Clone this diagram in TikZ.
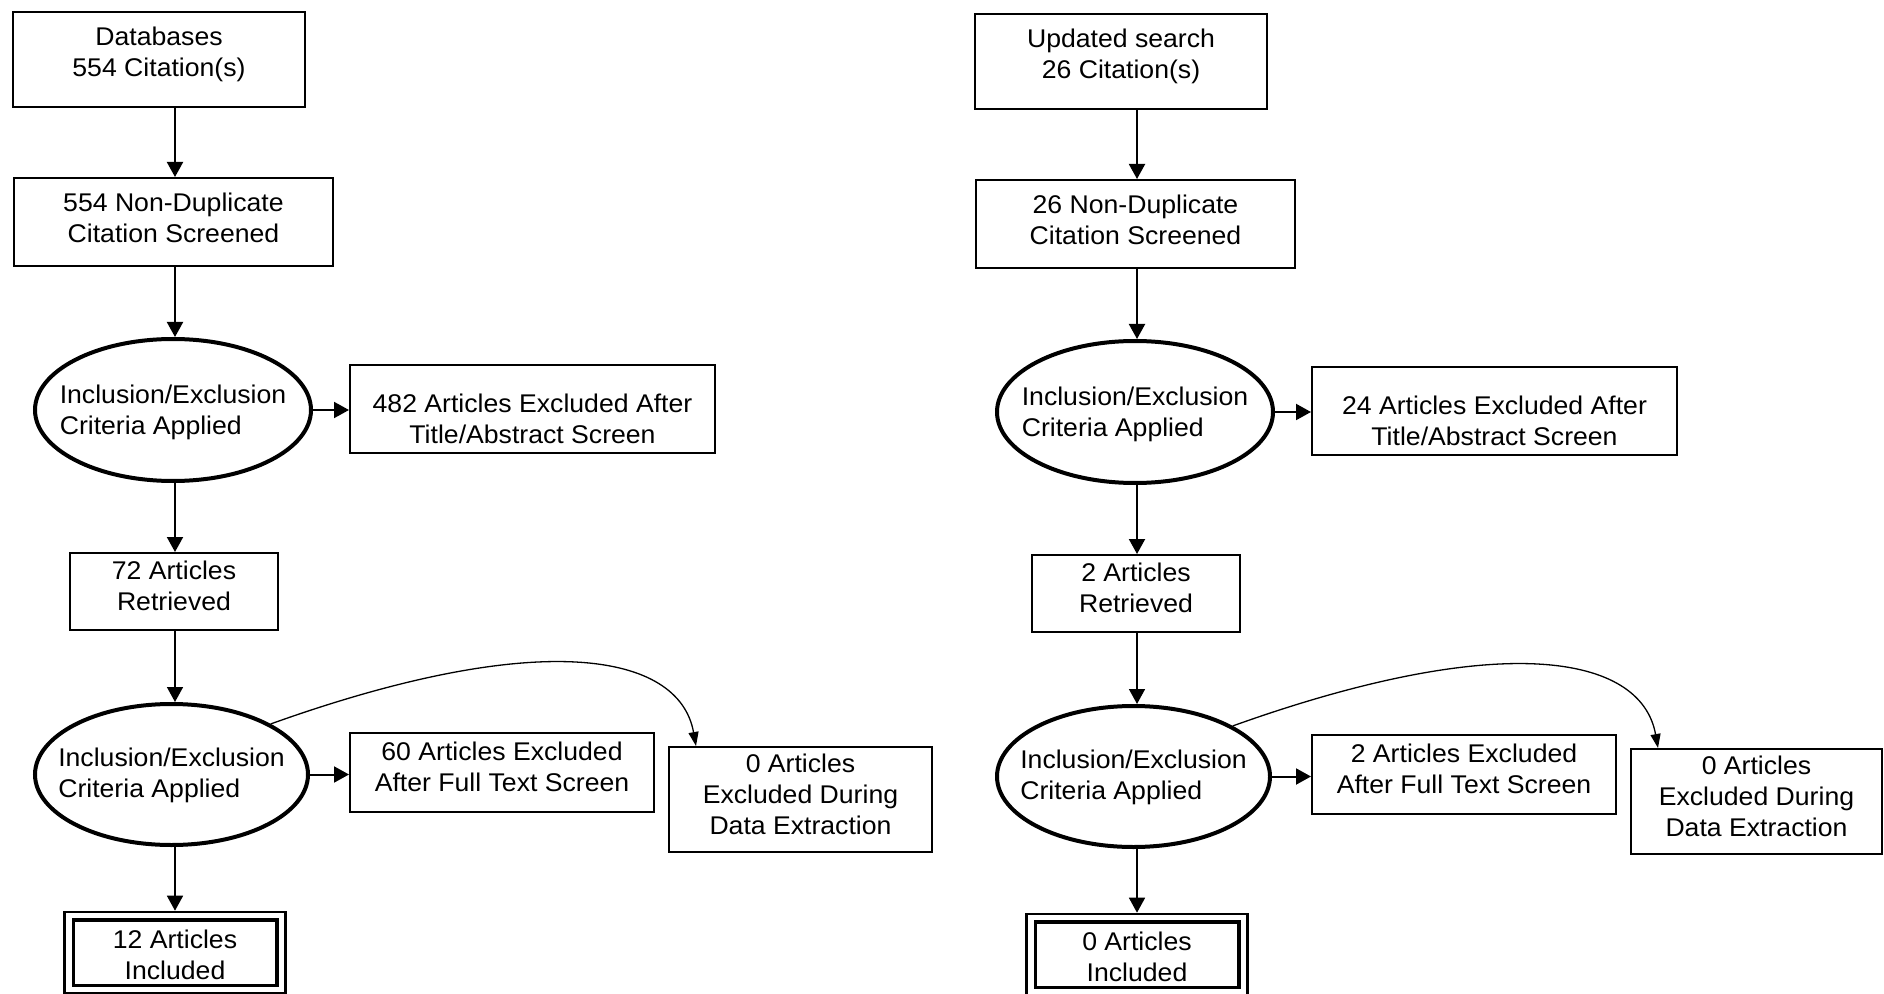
\documentclass[tikz,border=0pt]{standalone}
\usepackage{fontspec}
\setmainfont{Liberation Sans}[FakeStretch=1.04]
\usetikzlibrary{arrows.meta,shapes.geometric}
\tikzset{
  box/.style={draw, line width=1pt, inner sep=0pt},
  txt/.style={label={[align=center, yshift=#1]center:\boxtext}},
  ell/.style={ellipse, draw, line width=2pt, inner sep=0pt},
  arr/.style={-{Triangle[length=7.5pt,width=8pt]}, line width=1pt},
  arrthin/.style={-{Triangle[length=7.5pt,width=8pt]}, line width=0.8pt},
  carr/.style={-{Triangle[length=7pt,width=5pt]}, line width=0.65pt},
}
\newcommand\flowcol[9]{%
  \coordinate (#1ax) at (175,0);
  \node[box, minimum width=146pt, minimum height=47.5pt,
        label={[align=center, yshift=2.5pt]center:#2}] (#1db) at (159,59.5) {};
  \node[box, minimum width=159.5pt, minimum height=44pt,
        label={[align=center, yshift=2pt]center:#3}] (#1nd) at (173.5,222) {};
  \node[ell, minimum width=138pt, minimum height=71pt,
        label={[align=left, yshift=-1.3pt]center:Inclusion/Exclusion\\Criteria Applied}] (#1e1) at (173,410) {};
  \node[box, minimum width=182.5pt, minimum height=44pt,
        label={[align=center, yshift=-5pt]center:#4}] (#1x1) at (532.5,409) {};
  \node[box, minimum width=104pt, minimum height=38.5pt,
        label={[align=center, yshift=2.8pt]center:#5}] (#1r1) at (174,591.5) {};
  \node[ell, minimum width=136.5pt, minimum height=70.5pt,
        label={[align=left, yshift=-0.6pt]center:Inclusion/Exclusion\\Criteria Applied}] (#1e2) at (171.5,774.5) {};
  \node[box, minimum width=152pt, minimum height=39.5pt,
        label={[align=center, yshift=3pt]center:#6}] (#1x2) at (502,772.5) {};
  \node[box, minimum width=#9, minimum height=52.5pt,
        label={[align=center, yshift=2.5pt]center:0 Articles\\Excluded During\\Data Extraction}] (#1d2) at (#8,799.5) {};
  \node[box, line width=1.75pt, minimum width=101.75pt, minimum height=32.75pt,
        label={[align=center, yshift=-1pt]center:#7}] (#1inc) at (175,952.5) {};
  \node[draw, line width=1.3pt, inner sep=0pt, minimum width=110.75pt, minimum height=40.5pt] (#1incO) at (175,952.5) {};
  \draw[arr] (#1db.south -| #1ax) -- (#1nd.north -| #1ax);
  \draw[arr] (#1nd.south -| #1ax) -- (#1e1.north -| #1ax);
  \draw[arr] (#1e1.east) -- (#1x1.west |- #1e1.east);
  \draw[arr] (#1e1.south -| #1ax) -- (#1r1.north -| #1ax);
  \draw[arrthin] (#1r1.south -| #1ax) -- (#1e2.north -| #1ax);
  \draw[arr] (#1e2.east) -- (#1x2.west |- #1e2.east);
  \draw[arrthin] (#1e2.south -| #1ax) -- (#1incO.north -| #1ax);
  \draw[carr] (#1e2.27) .. controls +(265,-95) and +(-17,-95) .. ([xshift=14pt]#1d2.north west);
}
\begin{document}
\begin{tikzpicture}[x=0.5pt, y=-0.5pt, font=\fontsize{12.8}{15.4}\selectfont]
  \useasboundingbox (0,0) rectangle (1884,994);
  \flowcol{L}{Databases\\554 Citation(s)}{554 Non-Duplicate\\Citation Screened}%
    {482 Articles Excluded After\\Title/Abstract Screen}{72 Articles\\Retrieved}%
    {60 Articles Excluded\\After Full Text Screen}{12 Articles\\Included}{800.5}{131.5pt}
  \begin{scope}[shift={(962,2)}]
  \flowcol{R}{Updated search\\26 Citation(s)}{26 Non-Duplicate\\Citation Screened}%
    {24 Articles Excluded After\\Title/Abstract Screen}{2 Articles\\Retrieved}%
    {2 Articles Excluded\\After Full Text Screen}{0 Articles\\Included}{794.5}{125.5pt}
  \end{scope}
\end{tikzpicture}
\end{document}
